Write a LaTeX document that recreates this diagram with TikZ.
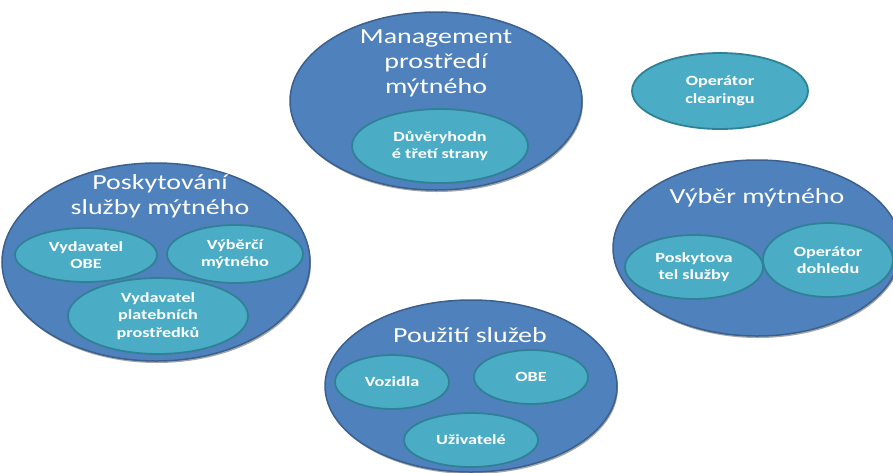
\documentclass[tikz,border=0pt]{standalone}
\usepackage{fontspec}
\setmainfont{Carlito}[FakeStretch=1.3]
\usepackage{tikz}
\usetikzlibrary{shapes,shadows}
\definecolor{modra}{RGB}{79,129,189}
\definecolor{tmavaModra}{RGB}{58,96,142}
\definecolor{tyrkys}{RGB}{75,172,198}
\definecolor{tmavyTyrkys}{RGB}{47,130,150}
\tikzstyle{oblast}=[ellipse, draw=tmavaModra, fill=modra, line width=1.5pt,
                    inner sep=0pt,
                    drop shadow={shadow xshift=1pt, shadow yshift=-2pt,
                                 opacity=0.35, fill=black}]
\tikzstyle{role}  =[ellipse, draw=tmavyTyrkys, fill=tyrkys, line width=1.8pt,
                    inner sep=0pt, text=white, align=center,
                    font=\fontsize{14}{17.5}\selectfont\bfseries]
\tikzstyle{nadpis}=[text=white, align=center, inner sep=0pt,
                    font=\fontsize{21.5}{25}\selectfont]

\begin{document}
\begin{tikzpicture}[x=1pt,y=-1pt]
    \useasboundingbox (0,0) rectangle (893,472);

        % velke oblasti
        \draw (436,101) node (mgmt) [oblast,minimum width=292pt,minimum height=178pt] {};
        \draw (156,262) node (posk) [oblast,minimum width=308pt,minimum height=198pt] {};
        \draw (757,248) node (vyber) [oblast,minimum width=288pt,minimum height=176pt] {};
        \draw (471,386) node (pouz) [oblast,minimum width=292pt,minimum height=172pt] {};

        % role
        \draw (440,146) node (duv) [role,minimum width=176pt,minimum height=74pt] {Důvěryhodn\\é třetí strany};
        \draw (720,91) node (clear) [role,minimum width=176pt,minimum height=76pt] {Operátor\\clearingu};
        \draw (86,255) node (vydOBE) [role,minimum width=142pt,minimum height=54pt] {Vydavatel\\OBE};
        \draw (235,254) node (vybc) [role,minimum width=136pt,minimum height=58pt] {Výběrčí\\mýtného};
        \draw (158,316) node (vydPl) [role,minimum width=180pt,minimum height=76pt] {Vydavatel\\platebních\\prostředků};
        \draw (694,267) node (poskSl) [role,minimum width=138pt,minimum height=64pt] {Poskytova\\tel služby};
        \draw (828,260) node (dohled) [role,minimum width=130pt,minimum height=74pt] {Operátor\\dohledu};
        \draw (392,382) node (voz) [role,minimum width=114pt,minimum height=54pt] {Vozidla};
        \draw (531,377) node (obe) [role,minimum width=114pt,minimum height=54pt] {OBE};
        \draw (471,440) node (uziv) [role,minimum width=134pt,minimum height=54pt] {Uživatelé};

        % nadpisy
        \draw (436,63) node (tMgmt) [nadpis] {Management\\prostředí\\mýtného};
        \draw (160,196) node (tPosk) [nadpis] {Poskytování\\služby mýtného};
        \draw (757,198) node (tVyber) [nadpis] {Výběr mýtného};
        \draw (470,335) node (tPouz) [nadpis] {Použití služeb};

\end{tikzpicture}
\end{document}
